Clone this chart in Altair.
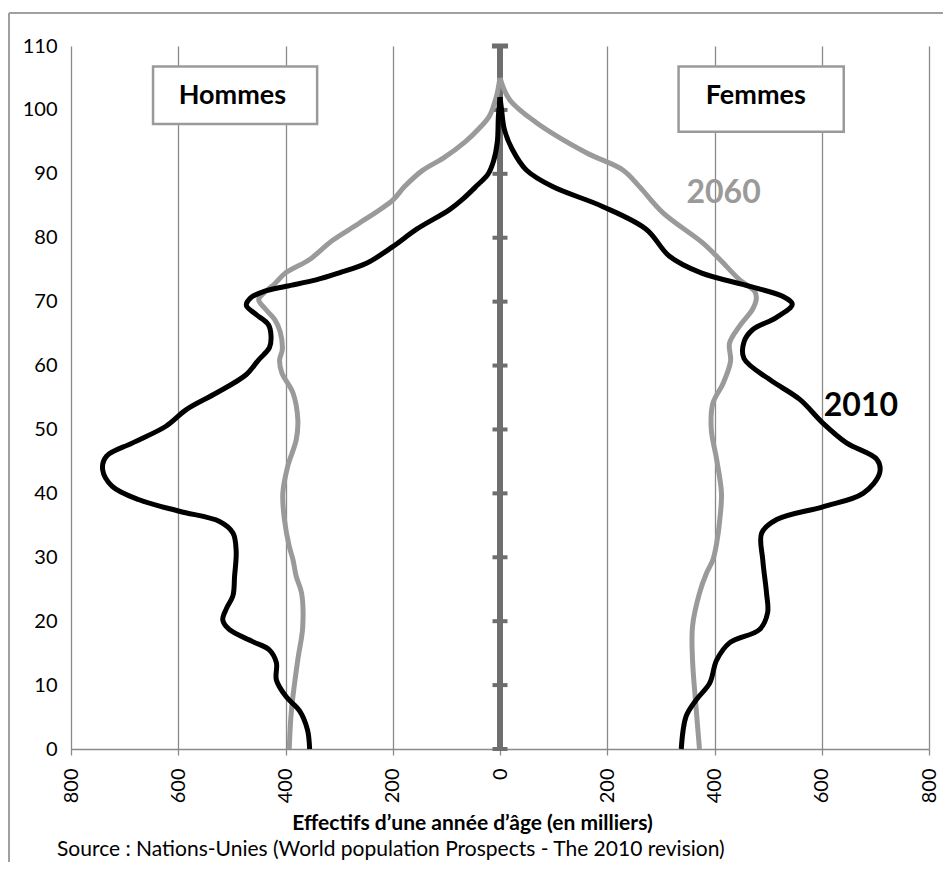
import altair as alt
import pandas as pd

# ---------------- data (thousands of people per single year of age) -------------
men_2010_age = [0, 3, 6, 8.2, 10.8, 13.5, 15.5, 16.8, 18.7, 20.2, 22, 24, 27, 31, 33.8, 35.6,
                37.2, 39, 41.1, 43.7, 45.8, 47.9, 50.5, 53.1, 55.7, 58.6, 60.9, 62.8, 64.6,
                66.4, 68, 69.4, 70.6, 71.6, 72.4, 73.4, 74.5, 76, 78.6, 81.3, 84.4, 86,
                88, 90, 92, 95, 99, 102]
men_2010_val = [355, 359, 374, 399, 417, 417, 430, 461, 505, 517, 510, 498, 495, 492, 498, 523,
                598, 673, 723, 741, 734, 685, 623, 585, 529, 473, 450, 430, 427,
                432, 455, 473, 465, 440, 399, 343, 300, 249, 200, 156, 94, 70,
                45, 22, 12, 5, 3, 0]

men_2060_age = [0, 6, 14, 19, 24.4, 27, 29.6, 31.7, 35.9, 40, 44.2, 48.4, 51.5, 55.7, 58.9,
                60.9, 62.5, 65.3, 67.2, 68.8, 70.3, 71.4, 72.8, 74.5, 76.6, 79.6, 82.3, 85.9,
                88, 90.5, 92.5, 95, 97, 99, 102, 105]
men_2060_val = [393, 389, 377, 368, 370, 380, 386, 393, 402, 405, 396, 380, 377, 386, 407,
                411, 406, 410, 420, 437, 450, 440, 420, 400, 355, 312, 262, 200,
                178, 145, 105, 65, 40, 20, 7, 0]

women_2010_age = [0, 5.1, 7.7, 10.3, 13.9, 16.6, 18.7, 21.3, 24.4, 29.6, 33.8, 35.9, 37.9, 40,
                  43.2, 45.3, 47.9, 51, 54.7, 57.8, 61.1, 63.7, 65.6, 67.5, 69.6, 70.8,
                  72.4, 74.5, 77.1, 81.3, 84.9, 88, 90.6, 93.8, 97, 100, 102]
women_2010_val = [338, 347, 366, 391, 404, 428, 484, 499, 497, 490, 488, 516, 602, 677,
                  708, 703, 646, 602, 559, 503, 455, 455, 471, 515, 545, 528,
                  466, 375, 316, 273, 191, 98, 49, 23, 8, 3, 0]

women_2060_age = [0, 6.1, 14, 19.2, 24.4, 27.5, 29.6, 32.2, 36, 40, 45.3, 50, 54.1, 57.2,
                  60.7, 63.5, 66.2, 68.8, 70.5, 71.6, 73.4, 76.6, 79.2, 83.9, 88, 90.6,
                  93.3, 98, 101.6, 105]
women_2060_val = [372, 366, 359, 359, 372, 385, 397, 404, 410, 413, 404, 394, 397, 416,
                  430, 428, 447, 471, 478, 475, 447, 410, 378, 304, 260, 229,
                  161, 68, 18, 0]

x_ticks = [-800, -600, -400, -200, 0, 200, 400, 600, 800]
y_ticks = [0, 10, 20, 30, 40, 50, 60, 70, 80, 90, 100, 110]

box_labels = ["Hommes", "Femmes"]
box_x1 = [-647, 333]
box_x2 = [-341, 641]
box_y1 = [97.8, 96.6]
box_y2 = [106.8, 106.8]
box_text_x = [-499, 477]
box_text_y = [102.1, 102.1]

year_labels = ["2060", "2010"]
year_x = [417, 673]
year_y = [87, 53.7]
year_colors = ["#9a9a9a", "#000000"]

center_tick_ages = [0, 10, 20, 30, 40, 50, 60, 70, 80, 90, 100]

FONT = "Lato"
GRID = "#8a8a8a"

# ---------------- tables ---------------------------------------------------------
def series(ages, vals, sex, sign):
    return pd.DataFrame({"age": ages, "x": [sign * v for v in vals], "sex": sex})

df2010 = pd.concat([series(men_2010_age, men_2010_val, "H", -1),
                    series(women_2010_age, women_2010_val, "F", 1)])
df2060 = pd.concat([series(men_2060_age, men_2060_val, "H", -1),
                    series(women_2060_age, women_2060_val, "F", 1)])
boxes = pd.DataFrame({"label": box_labels, "x1": box_x1, "x2": box_x2, "y1": box_y1,
                      "y2": box_y2, "tx": box_text_x, "ty": box_text_y})
years = pd.DataFrame({"label": year_labels, "x": year_x, "y": year_y, "c": year_colors})
cticks = pd.DataFrame({"age": center_tick_ages, "a": [-14] * len(center_tick_ages),
                       "b": [14] * len(center_tick_ages)})
caxis = pd.DataFrame({"x": [0], "y1": [0], "y2": [110], "a": [-15], "b": [15]})

xscale = alt.Scale(domain=[-800, 800], nice=False, zero=False)
yscale = alt.Scale(domain=[0, 110], nice=False, zero=False)

xaxis = alt.Axis(values=x_ticks, labelExpr="abs(datum.value)", labelAngle=270,
                 labelAlign="right", labelBaseline="middle", labelPadding=13,
                 labelFont=FONT, labelFontSize=20, labelColor="#000000",
                 grid=True, gridColor=GRID, gridWidth=1.3,
                 domainColor=GRID, domainWidth=1.5, tickColor=GRID, tickSize=6, tickWidth=1.3,
                 title="Effectifs d\u2019une année d\u2019âge (en milliers)",
                 titleFont=FONT, titleFontSize=21, titleFontWeight="bold", titleColor="#000000",
                 titleX=401, titleY=74, titleBaseline="middle", titleAlign="center")
yaxis = alt.Axis(values=y_ticks, grid=False, ticks=False, domain=False, labelPadding=14,
                 labelFont=FONT, labelFontSize=20, labelColor="#000000", title=None)

X = lambda f: alt.X(f, scale=xscale, axis=xaxis)
Y = lambda f: alt.Y(f, scale=yscale, axis=yaxis)

base_axis = alt.Chart(caxis).mark_rule(color="#6e6e6e", strokeWidth=6).encode(
    x=X("x:Q"), y=Y("y1:Q"), y2="y2:Q")
cap = alt.Chart(caxis).mark_rule(color="#6e6e6e", strokeWidth=5).encode(
    x=X("a:Q"), x2="b:Q", y=Y("y2:Q"))
ticks = alt.Chart(cticks).mark_rule(color="#6e6e6e", strokeWidth=4).encode(
    x=X("a:Q"), x2="b:Q", y=Y("age:Q"))

l2060 = alt.Chart(df2060).mark_line(color="#9a9a9a", strokeWidth=5,
                                    interpolate="catmull-rom").encode(
    x=X("x:Q"), y=Y("age:Q"), detail="sex:N", order="age:Q")
l2010 = alt.Chart(df2010).mark_line(color="#000000", strokeWidth=5,
                                    interpolate="catmull-rom").encode(
    x=X("x:Q"), y=Y("age:Q"), detail="sex:N", order="age:Q")

rects = alt.Chart(boxes).mark_rect(fill="white", stroke="#9a9a9a", strokeWidth=2.5).encode(
    x=X("x1:Q"), x2="x2:Q", y=Y("y1:Q"), y2="y2:Q")
rtext = alt.Chart(boxes).mark_text(font=FONT, fontSize=27, fontWeight="bold",
                                   color="#000000").encode(
    x=X("tx:Q"), y=Y("ty:Q"), text="label:N")

ytext = alt.Chart(years).mark_text(font=FONT, fontSize=32, fontWeight="bold").encode(
    x=X("x:Q"), y=Y("y:Q"), text="label:N", color=alt.Color("c:N", scale=None))

source = alt.Chart(caxis).mark_text(font=FONT, fontSize=21, align="left", baseline="middle",
                                    color="#000000",
                                    text="Source : Nations-Unies (World population Prospects - The 2010 revision)"
                                    ).encode(x=alt.value(-14), y=alt.value(804))

frame_top = alt.Chart(caxis).mark_rule(color="#a0a0a0", strokeWidth=2).encode(
    x=alt.value(-62), x2=alt.value(900), y=alt.value(-33))
frame_left = alt.Chart(caxis).mark_rule(color="#a0a0a0", strokeWidth=2).encode(
    x=alt.value(-62), y=alt.value(-33), y2=alt.value(900))

chart = alt.layer(frame_top, frame_left, base_axis, cap, ticks, l2060, l2010,
                  rects, rtext, ytext, source).properties(
    width=858, height=703,
    autosize=alt.AutoSizeParams(type="none"),
    padding={"left": 63, "top": 38, "right": 14, "bottom": 113},
).configure_view(stroke=None)

chart.save("out.html", embed_options={"renderer": "svg", "actions": False})
